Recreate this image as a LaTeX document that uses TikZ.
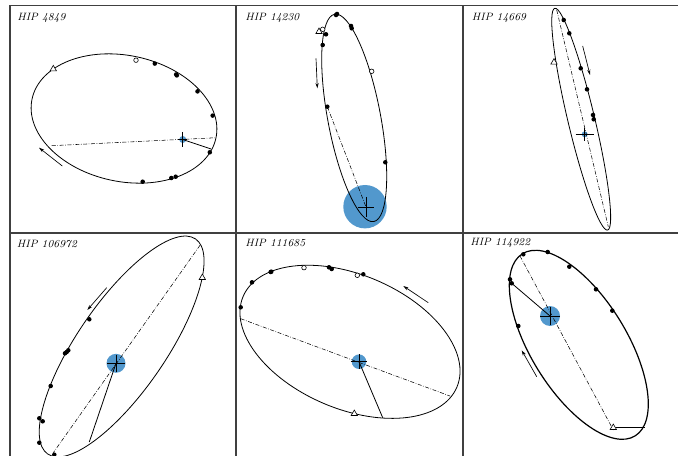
\documentclass[tikz,border=0pt]{standalone}
\usetikzlibrary{arrows.meta}
\usetikzlibrary{shapes.geometric}
\definecolor{starblue}{RGB}{82,152,205}

\begin{document}
\begin{tikzpicture}[x=0.75pt,y=-0.75pt,
  frame/.style={black!75,line width=1.2pt},
  orbit/.style={black,line width=0.6pt},
  obs/.style={circle,fill=black,inner sep=0pt,minimum size=3.4pt},
  obsopen/.style={circle,draw=black,fill=white,line width=0.45pt,inner sep=0pt,minimum size=3.4pt},
  tri/.style={regular polygon,regular polygon sides=3,draw=black,fill=white,line width=0.45pt,inner sep=0pt,minimum size=5.5pt},
  nodeline/.style={black,line width=0.4pt,dash pattern=on 3pt off 1.2pt on 0.5pt off 1.2pt},
  periline/.style={black,line width=0.6pt},
  motion/.style={black,line width=0.5pt,-{Stealth[length=4pt,width=2.4pt]}},
  err/.style={black,line width=0.6pt},
  hip/.style={anchor=west,inner sep=0pt,font=\fontsize{8}{9}\selectfont\itshape}]
\useasboundingbox (0,0) rectangle (678,456);

% panel frames
\draw[frame] (10,456) -- (10,5.5) -- (678,5.5);
\draw[frame] (236,5.5) -- (236,456);
\draw[frame] (463,5.5) -- (463,456);
\draw[frame] (10,233) -- (678,233);

% primaries
\coordinate (s1) at (182.7,139.5);
\coordinate (s2) at (366,207);
\coordinate (s3) at (584.7,134.3);
\coordinate (s4) at (116,363.3);
\coordinate (s5) at (359,361.7);
\coordinate (s6) at (550,316);
\fill[starblue] (s1) circle [radius=3.5];
\fill[starblue] (365,206.7) circle [radius=21.7];
\fill[starblue] (s3) circle [radius=3];
\fill[starblue] (s4) circle [radius=9.5];
\fill[starblue] (s5) circle [radius=7.3];
\fill[starblue] (s6) circle [radius=10];

% HIP 4849
\node[hip] (lbl1) at (17,17.5) {HIP 4849};
\draw[orbit] (124,118.5) ellipse [x radius=94,y radius=63,rotate=-12];
\coordinate (n1a) at (51.7,145.7);
\coordinate (n1b) at (216.7,137.7);
\coordinate (p1) at (211,149);
\draw[nodeline] (n1a) -- (n1b);
\draw[periline] (s1) -- (p1);
\draw[err] (s1) ++(-4.5,0) -- ++(9,0) (s1) ++(0,-7.5) -- ++(0,15);
\draw[motion] (62.3,166) -- (39,147.7);
\foreach \x/\y [count=\i] in {154.8/63.6,176.2/74.4,176.8/75.4,197.5/91.4,212.7/115.6,209.8/152.3,175.7/176.7,171.3/178,142.7/181.7}
  \node[obs] (d1-\i) at (\x,\y) {};
\node[obsopen] (o1-1) at (136,60.2) {};
\node[tri] (t1) at (53.3,69) {};

% HIP 14230
\node[hip] (lbl2) at (245,17.5) {HIP 14230};
\draw[orbit] (354.2,117.9) ellipse [x radius=105.5,y radius=26.4,rotate=-79.3];
\coordinate (n2a) at (327.3,106.7);
\draw[nodeline] (n2a) -- (s2);
\draw[err] (s2) ++(-8.3,0) -- ++(16.6,0) (s2) ++(0,-10) -- ++(0,20);
\draw[motion] (316,58.3) -- (317.3,88.3);
\foreach \x/\y [count=\i] in {336/15,337/14,351/26,351.7/28.3,326/34.3,322.7/45,327.3/106.7,385.3/162.3}
  \node[obs] (d2-\i) at (\x,\y) {};
\node[obsopen] (o2-1) at (322.7,29.3) {};
\node[obsopen] (o2-2) at (371.7,71.3) {};
\node[tri] (t2) at (319,31.7) {};

% HIP 14669
\node[hip] (lbl3) at (471.7,18) {HIP 14669};
\draw[orbit] (581.2,119.2) ellipse [x radius=114,y radius=13.4,rotate=-76.6];
\coordinate (n3a) at (556.7,10);
\coordinate (n3b) at (608.3,226.7);
\draw[nodeline] (n3a) -- (n3b);
\draw[err] (s3) ++(-9,0) -- ++(18,0) (s3) ++(0,-6.7) -- ++(0,13.4);
\draw[motion] (582.7,46) -- (590,75);
\foreach \x/\y [count=\i] in {563.7/20,569.3/33.3,580.7/68.3,587/89.3,593/115,593.7/119.3}
  \node[obs] (d3-\i) at (\x,\y) {};
\node[tri] (t3) at (554,62.3) {};

% HIP 106972
\node[hip] (lbl4) at (16.7,244) {HIP 106972};
\draw[orbit] (121.65,346.5) ellipse [x radius=130.5,y radius=44.2,rotate=55.5];
\coordinate (n4a) at (200,245.3);
\coordinate (n4b) at (53.3,452.7);
\coordinate (p4) at (89.3,442);
\draw[nodeline] (n4a) -- (n4b);
\draw[periline] (s4) -- (p4);
\draw[err] (s4) ++(-9,0) -- ++(18,0) (s4) ++(0,-8.7) -- ++(0,17.4);
\draw[motion] (106.7,287.7) -- (87.3,310);
\foreach \x/\y [count=\i] in {89.3/319.3,66.7/352,68.3/350.3,65/353.3,50.7/386,39.3/418.3,42.7/421.3,39.3/442.7,54.3/454.7}
  \node[obs] (d4-\i) at (\x,\y) {};
\node[tri] (t4) at (202.3,277.7) {};

% HIP 111685
\node[hip] (lbl5) at (245,243) {HIP 111685};
\draw[orbit] (350,341.8) ellipse [x radius=116.1,y radius=67,rotate=-23];
\coordinate (n5a) at (240.7,318.7);
\coordinate (n5b) at (450,396);
\coordinate (p5) at (382.7,417.7);
\draw[nodeline] (n5a) -- (n5b);
\draw[periline] (s5) -- (p5);
\draw[err] (s5) ++(-8.3,0) -- ++(16.6,0) (s5) ++(0,-7.5) -- ++(0,15);
\draw[motion] (428.3,302.7) -- (403.3,286);
\foreach \x/\y [count=\i] in {240.7/307.3,252/282.3,270.7/272,271.3/271.7,329/267.3,331.7/269,363.3/274.3}
  \node[obs] (d5-\i) at (\x,\y) {};
\node[obsopen] (o5-1) at (304,267.7) {};
\node[obsopen] (o5-2) at (357.3,275.3) {};
\node[tri] (t5) at (354.3,413.7) {};

% HIP 114922
\node[hip] (lbl6) at (470,243) {HIP 114922};
\draw[orbit,line width=0.9pt] (578.8,344.8) ellipse [x radius=107.1,y radius=47.8,rotate=-58.25];
\coordinate (n6a) at (520,256);
\coordinate (n6b) at (613.3,430);
\coordinate (p6) at (511.7,283.3);
\coordinate (q6) at (645,427.7);
\draw[nodeline] (n6a) -- (n6b);
\draw[periline] (p6) -- (s6);
\draw[err] (s6) ++(-9.7,0) -- ++(19.4,0) (s6) ++(0,-8.8) -- ++(0,17.6);
\draw[motion] (536.7,376.7) -- (521.7,350.3);
\foreach \x/\y [count=\i] in {523.3/254.3,547.7/252,569.3/266.7,596/289.3,612.3/310.7,510/279.3,511.7/283.3,518.3/326}
  \node[obs] (d6-\i) at (\x,\y) {};
\node[tri] (t6) at (613.3,427.7) {};
\draw[periline] (t6) -- (q6);
\end{tikzpicture}
\end{document}
